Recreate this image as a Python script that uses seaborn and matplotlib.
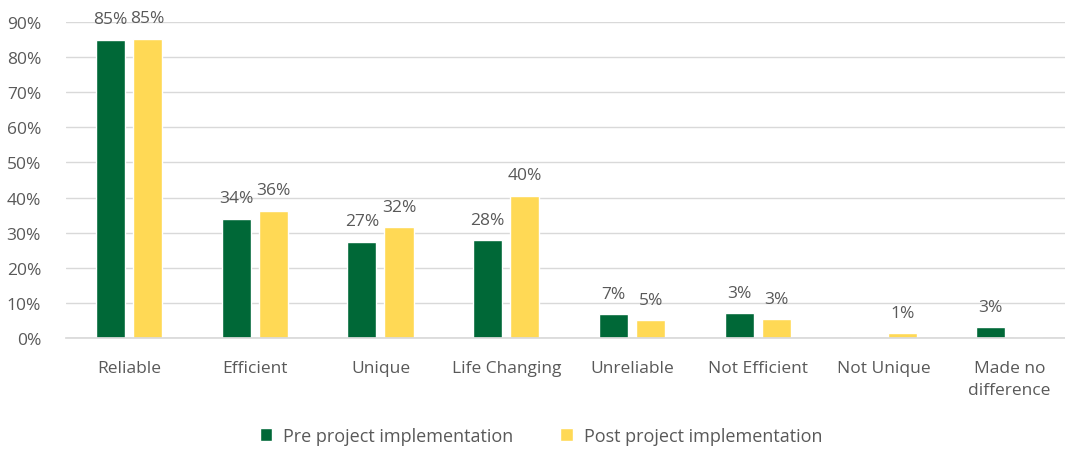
import numpy as np
import pandas as pd
import matplotlib
matplotlib.use("Agg")
import matplotlib.pyplot as plt
import seaborn as sns

sns.set_theme(style="white")
plt.rcParams['font.family'] = ['Open Sans', 'DejaVu Sans']

# data
categories = ["Reliable", "Efficient", "Unique", "Life Changing", "Unreliable",
              "Not Efficient", "Not Unique", "Made no\ndifference"]
pre_values = [84.9, 33.9, 27.4, 27.9, 6.8, 7.1, 0.0, 3.1]
post_values = [85.2, 36.2, 31.6, 40.5, 5.1, 5.4, 1.4, 0.0]
pre_labels = ["85%", "34%", "27%", "28%", "7%", "3%", "", "3%"]
post_labels = ["85%", "36%", "32%", "40%", "5%", "3%", "1%", ""]
series = ["Pre project implementation", "Post project implementation"]

df = pd.DataFrame({
    "Category": categories * 2,
    "Value": pre_values + post_values,
    "Series": [series[0]] * len(categories) + [series[1]] * len(categories),
})

txt = "#595959"
fs = 12.5
fig = plt.figure(figsize=(10.65, 4.52), dpi=100)
ax = fig.add_axes([66 / 1065, 1 - 339 / 452, 1000 / 1065, (339 - 23) / 452])

sns.barplot(data=df, x="Category", y="Value", hue="Series",
            palette=["#006837", "#FFD955"], width=0.59, gap=0.215,
            saturation=1, ax=ax, legend=True)

for cont, labs in zip(ax.containers, [pre_labels, post_labels]):
    ax.bar_label(cont, labels=labs, padding=9, color=txt, fontsize=fs)

ax.set_ylim(0, 90)
ax.set_xlim(-0.5, 7.45)
ax.set_yticks(np.arange(0, 91, 10))
ax.set_yticklabels([f"{v}%" for v in range(0, 91, 10)])
ax.yaxis.grid(True, color="#D9D9D9", linewidth=1)
ax.set_axisbelow(True)
for s in ["top", "right", "left"]:
    ax.spines[s].set_visible(False)
ax.spines["bottom"].set_color("#D9D9D9")
ax.tick_params(axis="both", colors=txt, labelsize=fs, length=0)
ax.tick_params(axis="x", pad=16)
ax.tick_params(axis="y", pad=18)
for lab in ax.get_xticklabels():
    lab.set_linespacing(1.5)
ax.set_xlabel("")
ax.set_ylabel("")

leg = ax.legend(loc="lower center", bbox_to_anchor=(0.475, -0.39), ncol=2,
                frameon=False, fontsize=13, handlelength=0.7, handleheight=0.7,
                columnspacing=2.6, handletextpad=0.6)
for t in leg.get_texts():
    t.set_color(txt)

fig.savefig("out.png", dpi=100)
